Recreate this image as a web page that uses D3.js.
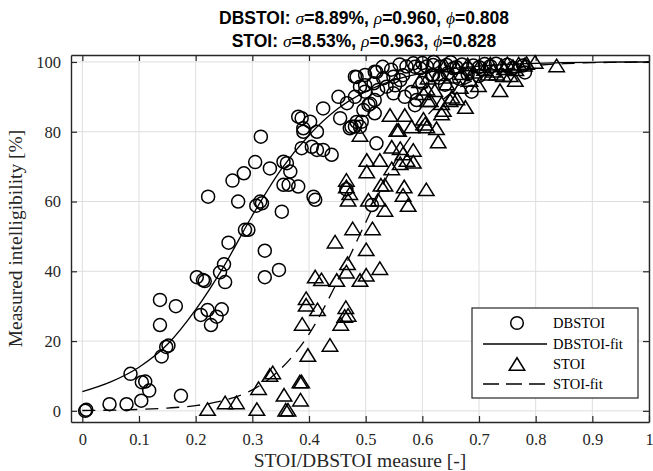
<!DOCTYPE html>
<html>
<head>
<meta charset="utf-8">
<script src="https://cdn.jsdelivr.net/npm/d3@7"></script>
<style>
  body { margin: 0; background: #fff; }
  svg { display: block; }
</style>
</head>
<body>
<div id="chart"></div>
<script>
// DBSTOI measurements (x: measure, y: intelligibility %)
var dbstoiX = [0.005,0.007,0.048,0.078,0.104,0.118,0.105,0.111,0.085,0.174,0.14,0.152,0.148,0.137,0.137,0.165,0.209,0.221,0.227,0.237,0.246,0.202,0.213,0.216,0.243,0.25,0.252,0.258,0.287,0.293,0.322,0.322,0.347,
  0.222,0.275,0.265,0.285,0.305,0.315,0.307,0.314,0.331,0.317,0.355,0.361,0.367,0.355,0.364,0.381,0.352,0.408,0.411,
  0.381,0.387,0.402,0.39,0.39,0.414,0.387,0.405,0.414,0.425,0.44,0.425,0.452,0.467,0.455,0.481,0.472,0.481,0.493,0.505,0.516,0.519,
  0.481,0.499,0.516,0.514,0.522,0.531,0.537,0.549,0.549,0.561,0.569,0.572,0.584,0.59,0.596,0.608,0.619,0.631,0.643,0.655,0.619,0.49,0.499,0.516,
  0.466,0.511,
  0.66,0.67,0.68,0.69,0.70,0.71,0.72,0.73,0.617,0.687,0.778,0.781,0.75,0.76,
  0.484,0.499,0.519,0.552,0.566,0.587,0.581,0.587,0.508,0.496,0.484,0.475,0.49,
  0.63,0.645,0.665,0.68,0.70,0.64,0.6,0.545,0.53,0.56,0.6,0.62,0.65];
var dbstoiY = [0,0.3,1.9,1.9,2.9,5.8,8.2,8.4,10.6,4.3,15.6,18.7,18.3,24.6,31.8,30,27.5,28.9,24.6,27,29.1,38.3,37.5,37.2,39.7,42,36.9,48.2,51.9,51.9,45.9,38.3,40.4,
  61.4,60,66,68.1,71.3,78.6,58.8,60,69.5,59.5,71.4,71,68.6,64.8,64.8,64.3,57.1,61.4,60.5,
  84.3,83.9,82.9,81,80,80,75.3,75.7,74.8,74.8,73.4,86.7,90,88.2,83.9,90,81,81.5,82.9,87.7,85.3,76.7,
  95.8,96.3,97.2,93.9,92,95.3,92.9,91,95.8,94.8,90,98.7,99.6,89.1,98.2,98.7,99.1,98.7,99.1,98.2,96.3,92.9,91.5,89.1,
  63.5,59,
  98.5,99.3,98,99,98.5,99.4,98.8,99.5,96.2,91.5,99,97,99.2,98.3,
  95.7,93.3,97.1,93.3,96.2,98.6,91.4,87.6,88,86.2,82.8,81.4,81.4,
  95.5,96.8,95.2,96.5,96,93.5,94,97.8,98.6,99.3,99.7,100,99.9];

// STOI measurements
var stoiX = [0.221,0.252,0.272,0.311,0.308,0.331,0.336,0.356,0.359,0.363,0.385,0.384,0.387,0.398,0.437,0.388,0.395,0.395,0.415,0.456,0.465,0.469,0.463,0.411,0.422,0.449,0.468,0.466,0.49,0.501,0.525,0.501,0.446,0.477,0.512,
  0.527,0.534,0.568,0.607,0.472,0.469,0.505,0.522,0.566,0.534,0.575,
  0.49,0.543,0.558,0.555,0.569,0.581,0.608,0.625,0.628,0.502,0.502,0.525,0.546,0.561,0.566,0.584,0.573,0.584,0.546,0.561,0.466,0.466,
  0.737,0.764,0.605,0.676,0.634,0.649,0.661,0.614,0.608,0.622,0.643,0.667,0.699,0.684,0.716,0.731,0.743,0.755,
  0.64,0.66,0.68,0.70,0.72,0.74,0.75,0.76,0.77,0.78,0.784,0.799,0.837,
  0.602,0.634,0.652,0.61,0.637,0.602,
  0.61,0.63,0.65,0.67,0.69,0.595,0.71,0.725,0.745,0.765];
var stoiY = [0.5,2.4,2.4,6.5,0.5,10.3,11,4.6,0.3,0.3,3.2,8.4,8.4,16,18.9,24.9,32.3,30.4,29.1,24.9,29.7,27.5,27.2,38.5,37.7,37.5,42.3,39.9,37.5,39,40.9,46.3,48.5,52.3,52.3,
  64.8,64.8,64.3,63.5,62.4,60.5,60.5,60.5,61.9,57.6,59,
  79.1,84.8,80.5,80.5,84.8,81.5,81.5,81,77.2,71.9,68.6,71.9,75.7,75.3,73.8,74.8,71.9,71.4,69.5,71,66.2,64.3,
  91.9,94.8,82.3,87.1,85.2,89,89.5,89,92.3,91.9,93.8,92.8,93.3,94.8,96.6,96.6,96.2,96.2,
  99,98.6,99.3,98.8,99.5,99,99.6,98.8,99.5,99.2,99.7,100,99,
  91,88.2,90,89,86.2,83.7,
  95.5,96.5,95.8,96.8,97.2,94.5,98,97.5,98.2,97.9];

// fitted curves
var fitX = [0,0.05,0.1,0.15,0.2,0.25,0.3,0.35,0.4,0.45,0.5,0.55,0.6,0.65,0.7,0.75,0.8,0.85,0.9,0.95,1];
var dbstoiFit = [5.5,8.3,12.5,19,29,41.5,56,69,79,86.5,91.5,94.8,96.8,98,98.8,99.3,99.6,99.8,99.9,100,100];
var stoiFit = [0.1,0.2,0.4,0.8,1.5,3,6,12,22,37,54,71,83,91,95.5,97.8,99,99.5,99.8,99.9,100];

var xTicks = [0,0.1,0.2,0.3,0.4,0.5,0.6,0.7,0.8,0.9,1];
var yTicks = [0,20,40,60,80,100];
var legendLabels = ["DBSTOI","DBSTOI-fit","STOI","STOI-fit"];

var width = 653, height = 471;
var margin = {top: 55, right: 4, bottom: 49, left: 71};
var plotW = width - margin.left - margin.right,
    plotH = height - margin.top - margin.bottom;

var serif = "'Liberation Serif', 'Times New Roman', serif";
var sans = "'Liberation Sans', Arial, Helvetica, sans-serif";

var svg = d3.select("#chart")
  .append("svg")
    .attr("width", width)
    .attr("height", height);

var g = svg.append("g")
    .attr("transform", "translate(" + margin.left + "," + margin.top + ")");

var x = d3.scaleLinear().domain([-0.02, 1]).range([0, plotW]);
var y = d3.scaleLinear().domain([-3.2, 102]).range([plotH, 0]);

g.append("clipPath").attr("id", "clip")
  .append("rect").attr("width", plotW).attr("height", plotH);

// grid
g.selectAll(".gx").data(xTicks).enter().append("line")
  .attr("x1", function(d){ return x(d); }).attr("x2", function(d){ return x(d); })
  .attr("y1", 0).attr("y2", plotH)
  .style("stroke", "#dedede").style("stroke-width", 1);
g.selectAll(".gy").data(yTicks).enter().append("line")
  .attr("x1", 0).attr("x2", plotW)
  .attr("y1", function(d){ return y(d); }).attr("y2", function(d){ return y(d); })
  .style("stroke", "#dedede").style("stroke-width", 1);

// axes, ticks pointing inward on all four sides
var tickLen = 6;
g.append("g")
  .attr("transform", "translate(0," + plotH + ")")
  .call(d3.axisBottom(x).tickValues(xTicks).tickSize(-tickLen).tickPadding(11).tickSizeOuter(0)
        .tickFormat(function(d){ return d === 0 || d === 1 ? d3.format("d")(d) : d3.format(".1f")(d); }));
g.append("g")
  .call(d3.axisLeft(y).tickValues(yTicks).tickSize(-tickLen).tickPadding(10).tickSizeOuter(0));
g.append("g")
  .call(d3.axisTop(x).tickValues(xTicks).tickSize(-tickLen).tickFormat("").tickSizeOuter(0));
g.append("g")
  .attr("transform", "translate(" + plotW + ",0)")
  .call(d3.axisRight(y).tickValues(yTicks).tickSize(-tickLen).tickFormat("").tickSizeOuter(0));

g.selectAll(".domain").style("stroke", "#262626").style("stroke-width", 1.4);
g.selectAll(".tick line").style("stroke", "#262626").style("stroke-width", 1.2);
g.selectAll(".tick text")
  .style("font-family", serif).style("font-size", "16.5px").style("fill", "#262626");

// fit lines
var fitData = fitX.map(function(d, i){ return {x: d, db: dbstoiFit[i], st: stoiFit[i]}; });
var plotArea = g.append("g").attr("clip-path", "url(#clip)");

plotArea.append("path")
  .datum(fitData)
  .attr("d", d3.line().curve(d3.curveMonotoneX)
    .x(function(d){ return x(d.x); }).y(function(d){ return y(d.db); }))
  .style("fill", "none").style("stroke", "#000").style("stroke-width", 1.3);

plotArea.append("path")
  .datum(fitData)
  .attr("d", d3.line().curve(d3.curveMonotoneX)
    .x(function(d){ return x(d.x); }).y(function(d){ return y(d.st); }))
  .style("fill", "none").style("stroke", "#000").style("stroke-width", 1.3)
  .style("stroke-dasharray", "13,8");

// markers
var triW = 15.5, triH = 12.5;
function triPath(cx, cy) {
  return "M" + cx + "," + (cy - triH / 2) +
         "L" + (cx + triW / 2) + "," + (cy + triH / 2) +
         "L" + (cx - triW / 2) + "," + (cy + triH / 2) + "Z";
}

var dbPts = dbstoiX.map(function(d, i){ return {x: d, y: dbstoiY[i]}; });
var stPts = stoiX.map(function(d, i){ return {x: d, y: stoiY[i]}; });

g.selectAll("circle.db")
  .data(dbPts)
  .enter()
  .append("circle")
    .attr("class", "db")
    .attr("cx", function(d){ return x(d.x); })
    .attr("cy", function(d){ return y(d.y); })
    .attr("r", 6.5)
    .style("fill", "none").style("stroke", "#000").style("stroke-width", 1.5);

g.selectAll("path.st")
  .data(stPts)
  .enter()
  .append("path")
    .attr("class", "st")
    .attr("d", function(d){ return triPath(x(d.x), y(d.y)); })
    .style("fill", "none").style("stroke", "#000").style("stroke-width", 1.5)
    .style("stroke-linejoin", "miter");

// legend
var lg = svg.append("g").attr("transform", "translate(472,308)");
lg.append("rect")
  .attr("width", 166).attr("height", 90)
  .style("fill", "#fff").style("stroke", "#262626").style("stroke-width", 1.2);

var rowY = [15, 36, 56, 76];
lg.append("circle").attr("cx", 45).attr("cy", rowY[0]).attr("r", 6.3)
  .style("fill", "none").style("stroke", "#000").style("stroke-width", 1.5);
lg.append("line").attr("x1", 11).attr("x2", 75).attr("y1", rowY[1]).attr("y2", rowY[1])
  .style("stroke", "#000").style("stroke-width", 1.3);
lg.append("path").attr("d", triPath(45, rowY[2]))
  .style("fill", "none").style("stroke", "#000").style("stroke-width", 1.5);
lg.append("line").attr("x1", 11).attr("x2", 75).attr("y1", rowY[3]).attr("y2", rowY[3])
  .style("stroke", "#000").style("stroke-width", 1.3).style("stroke-dasharray", "16,7");

lg.selectAll("text.lt")
  .data(legendLabels)
  .enter()
  .append("text")
    .attr("x", 81)
    .attr("y", function(d, i){ return rowY[i] + 5; })
    .style("font-family", serif).style("font-size", "14.5px").style("fill", "#000")
    .text(function(d){ return d; });

// axis labels
svg.append("text")
  .attr("x", margin.left + plotW / 2)
  .attr("y", 467)
  .attr("text-anchor", "middle")
  .style("font-family", serif).style("font-size", "19.5px").style("fill", "#262626")
  .text("STOI/DBSTOI measure [-]");

svg.append("text")
  .attr("transform", "translate(22," + (margin.top + plotH / 2) + ") rotate(-90)")
  .attr("text-anchor", "middle")
  .style("font-family", serif).style("font-size", "19.5px").style("fill", "#262626")
  .text("Measured intelligibility [%]");

// title, two lines with greek symbols in serif italic
var titleLines = [
  {name: "DBSTOI: ", s: "8.89%", r: "0.960", p: "0.808"},
  {name: "STOI: ", s: "8.53%", r: "0.963", p: "0.828"}
];
var titleY = [24, 47];
titleLines.forEach(function(t, i) {
  var txt = svg.append("text")
    .attr("x", margin.left + plotW / 2 + 4)
    .attr("y", titleY[i])
    .attr("text-anchor", "middle")
    .style("font-family", sans).style("font-size", "17.5px").style("font-weight", "bold").style("fill", "#000");
  function greek(ch) {
    txt.append("tspan").text(ch)
      .style("font-family", serif).style("font-style", "italic").style("font-weight", "normal");
  }
  txt.append("tspan").text(t.name);
  greek("\u03C3");
  txt.append("tspan").text("=" + t.s + ", ");
  greek("\u03C1");
  txt.append("tspan").text("=" + t.r + ", ");
  greek("\u03D5");
  txt.append("tspan").text("=" + t.p);
});
</script>
</body>
</html>
